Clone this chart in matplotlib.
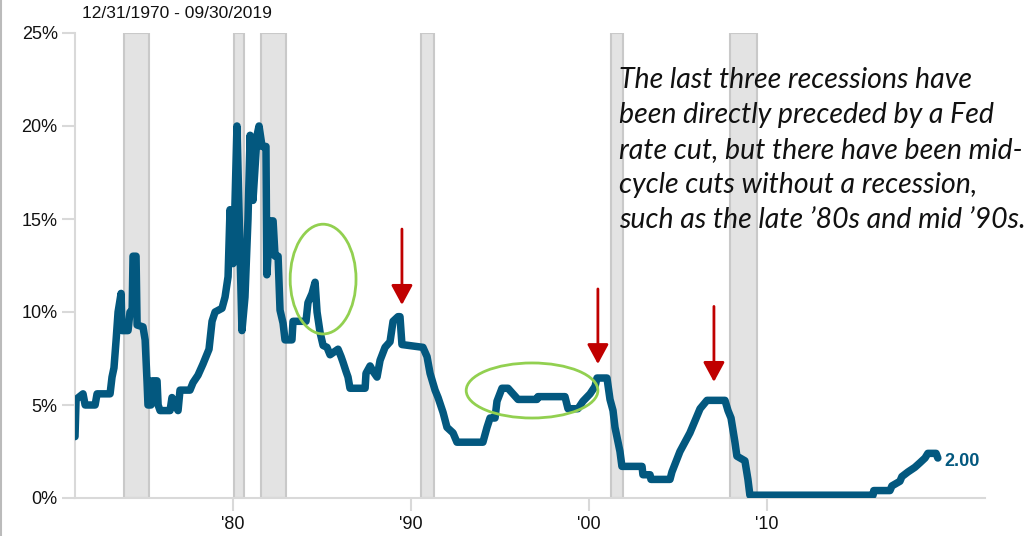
import matplotlib
matplotlib.use("Agg")
import matplotlib.pyplot as plt
from matplotlib.patches import Ellipse
from matplotlib.lines import Line2D

# ---- data ----
years = [1971.12, 1971.18, 1971.57, 1971.69, 1972.25, 1972.36, 1973.09, 1973.2, 1973.31, 1973.43,
         1973.54, 1973.71, 1973.76, 1974.1, 1974.21, 1974.33, 1974.38, 1974.55, 1974.61, 1974.94,
         1975.06, 1975.17, 1975.22, 1975.39, 1975.45, 1975.73, 1975.79, 1975.9, 1976.46, 1976.57,
         1976.74, 1976.91, 1977.02, 1977.58, 1977.75, 1978.03, 1978.31, 1978.48, 1978.65, 1978.82,
         1978.99, 1979.38, 1979.55, 1979.72, 1979.83, 1980.0, 1980.1, 1980.22, 1980.5, 1980.67,
         1980.84, 1980.96, 1981.12, 1981.35, 1981.46, 1981.63, 1981.85, 1981.9, 1982.08, 1982.25,
         1982.36, 1982.53, 1982.64, 1982.81, 1982.92, 1983.31, 1983.37, 1984.1, 1984.21, 1984.44,
         1984.61, 1984.72, 1984.89, 1985.06, 1985.28, 1985.45, 1985.9, 1986.07, 1986.18, 1986.35,
         1986.46, 1986.57, 1987.42, 1987.47, 1987.7, 1987.87, 1988.09, 1988.26, 1988.54, 1988.82,
         1988.99, 1989.27, 1989.38, 1989.49, 1990.67, 1990.9, 1991.07, 1991.35, 1991.52, 1991.8,
         1992.02, 1992.36, 1992.58, 1994.04, 1994.27, 1994.44, 1994.72, 1994.83, 1995.11, 1995.45,
         1995.73, 1996.01, 1997.08, 1997.13, 1998.65, 1998.82, 1999.38, 1999.66, 2000.06, 2000.34,
         2000.45, 2001.01, 2001.18, 2001.35, 2001.46, 2001.63, 2001.74, 2001.85, 2002.98, 2003.03,
         2003.43, 2003.48, 2004.55, 2004.66, 2005.11, 2005.67, 2006.24, 2006.63, 2007.64, 2007.81,
         2007.98, 2008.2, 2008.31, 2008.76, 2008.93, 2009.04, 2015.96, 2016.0, 2016.91, 2017.02,
         2017.47, 2017.58, 2017.92, 2018.31, 2018.6, 2018.88, 2019.04, 2019.5, 2019.6]
rates = [3.3, 5.3, 5.6, 5.0, 5.0, 5.6, 5.6, 6.5, 7.0, 8.5,
         10.0, 11.0, 9.0, 9.0, 10.0, 10.0, 13.0, 13.0, 9.3, 9.2,
         8.5, 6.2, 5.0, 5.0, 6.3, 6.3, 5.0, 4.7, 4.7, 5.4,
         5.0, 4.7, 5.8, 5.8, 6.2, 6.6, 7.2, 7.6, 8.0, 9.5,
         10.0, 10.2, 10.8, 11.9, 15.5, 12.6, 15.5, 20.0, 9.0, 10.8,
         15.0, 19.5, 16.0, 19.5, 20.0, 18.9, 18.9, 12.0, 14.9, 14.9,
         13.0, 13.0, 10.1, 9.4, 8.5, 8.5, 9.5, 9.5, 10.5, 11.0,
         11.6, 10.0, 8.9, 8.2, 8.1, 7.7, 8.0, 7.6, 7.3, 6.8,
         6.5, 5.9, 5.9, 6.7, 7.1, 6.8, 6.5, 7.4, 8.1, 8.4,
         9.5, 9.75, 9.75, 8.25, 8.1, 7.6, 6.7, 5.8, 5.4, 4.6,
         3.8, 3.5, 3.0, 3.0, 3.8, 4.3, 4.3, 5.2, 5.9, 5.9,
         5.6, 5.3, 5.3, 5.45, 5.45, 4.8, 4.8, 5.2, 5.6, 6.0,
         6.45, 6.45, 5.3, 4.7, 3.8, 3.0, 2.5, 1.7, 1.7, 1.25,
         1.25, 1.0, 1.0, 1.4, 2.5, 3.5, 4.8, 5.25, 5.25, 4.7,
         4.3, 3.0, 2.25, 2.0, 1.0, 0.15, 0.15, 0.4, 0.4, 0.65,
         0.9, 1.15, 1.4, 1.65, 1.9, 2.15, 2.4, 2.4, 2.15]

rec_start = [1973.88, 1980.06, 1981.57, 1990.56, 2001.24, 2007.92]
rec_end = [1975.28, 1980.62, 1982.98, 1991.29, 2001.91, 2009.44]

ytick_vals = [0, 5, 10, 15, 20, 25]
ytick_labels = ["0%", "5%", "10%", "15%", "20%", "25%"]
xtick_vals = [1980, 1990, 2000, 2010]
xtick_labels = ["'80", "'90", "'00", "'10"]

arrow_x = [1989.49, 2000.5, 2007.02]
arrow_top = [14.46, 11.24, 10.3]
arrow_tip = [10.38, 7.2, 6.24]

# ellipses: (center x, center y, width, height)
ell_cx = [1985.06, 1996.8]
ell_cy = [11.77, 5.78]
ell_w = [3.7, 7.4]
ell_h = [5.9, 2.96]

title = "12/31/1970 - 09/30/2019"
last_label = "2.00"
note = ("The last three recessions have\n"
        "been directly preceded by a Fed\n"
        "rate cut, but there have been mid-\n"
        "cycle cuts without a recession,\n"
        "such as the late \u201980s and mid \u201990s.")

# ---- plot ----
plt.rcParams['font.family'] = ['Liberation Sans', 'DejaVu Sans']
fig = plt.figure(figsize=(10.32, 5.36), dpi=100)
ax = fig.add_axes([75/1032, 1-498/536, (985-75)/1032, (498-33)/536])

line_color = '#03587f'
axis_color = '#d9d9d9'

for s, e in zip(rec_start, rec_end):
    ax.axvspan(s, e, ymin=0, ymax=1, facecolor='#e3e3e3', edgecolor='#c9c9c9', lw=1.5, zorder=1)

ax.plot(years, rates, color=line_color, lw=5.4, solid_capstyle='round', solid_joinstyle='round', zorder=3)

for cx, cy, w, h in zip(ell_cx, ell_cy, ell_w, ell_h):
    ax.add_patch(Ellipse((cx, cy), w, h, fill=False, edgecolor='#92d050', lw=2, zorder=4))

for x, t, b in zip(arrow_x, arrow_top, arrow_tip):
    ax.annotate('', xy=(x, b), xytext=(x, t),
                arrowprops=dict(arrowstyle='-|>,head_length=1.2,head_width=0.65',
                                color='#c00000', lw=2, shrinkA=0, shrinkB=0), zorder=5)

ax.set_xlim(1971.12, 2022.25)
ax.set_ylim(0, 25)
ax.set_yticks(ytick_vals)
ax.set_yticklabels(ytick_labels)
ax.set_xticks(xtick_vals)
ax.set_xticklabels(xtick_labels)
for sp in ['top', 'right']:
    ax.spines[sp].set_visible(False)
for sp in ['left', 'bottom']:
    ax.spines[sp].set_color(axis_color)
    ax.spines[sp].set_linewidth(1.5)
ax.tick_params(axis='y', length=9.5, width=1.5, color=axis_color, labelsize=13, pad=3, labelcolor='#111111')
ax.tick_params(axis='x', length=9, width=1.5, color=axis_color, labelsize=13, pad=4, labelcolor='#111111')

ax.text(years[-1] + 0.35, rates[-1] - 0.2, last_label, color=line_color, fontsize=13,
        fontweight='bold', va='center', ha='left')

fig.text(82/1032, 1-14/536, title, fontsize=12.5, va='center', ha='left', color='#111111')

fig.text(619/1032, 1-67/536, note, fontsize=20.5, style='italic', family=['Lato', 'DejaVu Sans'],
         va='top', ha='left', linespacing=1.43, color='#111111')

fig.add_artist(Line2D([0.001, 0.001], [0, 1], transform=fig.transFigure, color='#bbbbbb', lw=1.5))

fig.savefig('out.png', dpi=100)
